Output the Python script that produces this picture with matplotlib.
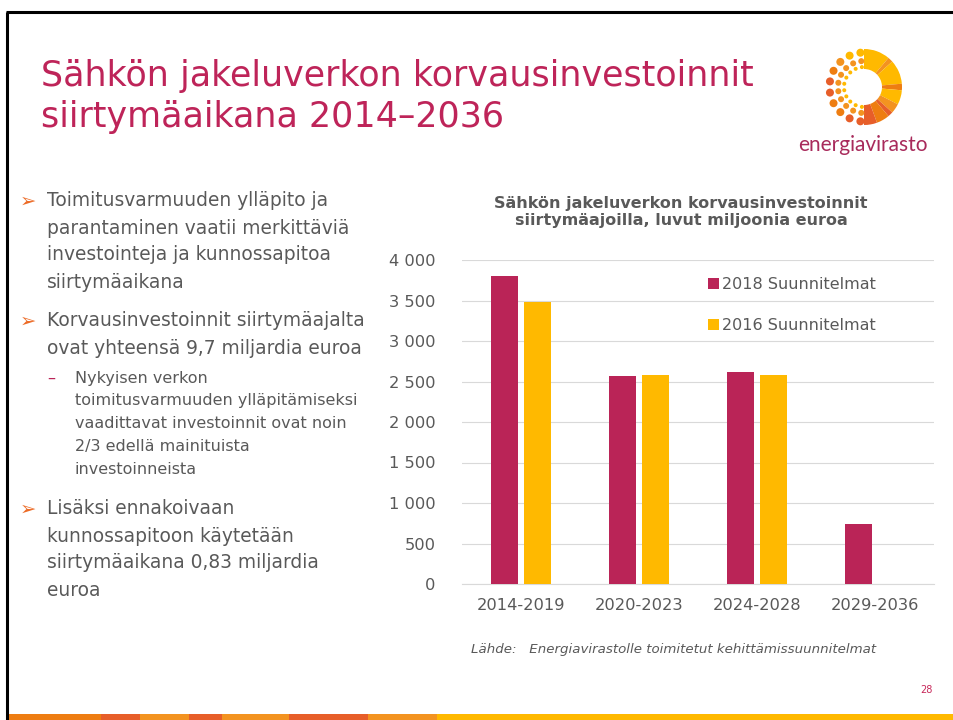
import numpy as np
import matplotlib

matplotlib.use("Agg")

import matplotlib.pyplot as plt
from matplotlib.patches import Circle, Rectangle, Wedge

categories = ["2014-2019", "2020-2023", "2024-2028", "2029-2036"]
plans_2018 = [3800, 2570, 2620, 735]
plans_2016 = [3480, 2575, 2585, np.nan]
y_ticks = [0, 500, 1000, 1500, 2000, 2500, 3000, 3500, 4000]
y_labels = ["0", "500", "1 000", "1 500", "2 000", "2 500", "3 000", "3 500", "4 000"]

title_lines = ["Sähkön jakeluverkon korvausinvestoinnit", "siirtymäaikana 2014–2036"]
main_text = [
    (201, "Toimitusvarmuuden ylläpito ja", True),
    (228, "parantaminen vaatii merkittäviä", False),
    (255, "investointeja ja kunnossapitoa", False),
    (282, "siirtymäaikana", False),
    (321, "Korvausinvestoinnit siirtymäajalta", True),
    (348, "ovat yhteensä 9,7 miljardia euroa", False),
    (509, "Lisäksi ennakoivaan", True),
    (536, "kunnossapitoon käytetään", False),
    (563, "siirtymäaikana 0,83 miljardia", False),
    (590, "euroa", False),
]
sub_text = [
    (378, "Nykyisen verkon"),
    (401, "toimitusvarmuuden ylläpitämiseksi"),
    (424, "vaadittavat investoinnit ovat noin"),
    (447, "2/3 edellä mainituista"),
    (470, "investoinneista"),
]
footer_colors = ["#EE7D11", "#E75E29", "#F39320", "#E75E29", "#F39320", "#E75E29", "#F39320", "#FFB900"]
footer_edges = [9, 101, 140, 189, 222, 289, 368, 437, 954]

RED = "#BA2457"
YELLOW = "#FFB900"
GREY = "#595959"
W, H = 954, 720

plt.rcParams["font.family"] = ["DejaVu Sans"]

fig = plt.figure(figsize=(W / 100, H / 100), dpi=100)

# slide background, in pixel coordinates
bg = fig.add_axes([0, 0, 1, 1])
bg.set_xlim(0, W)
bg.set_ylim(H, 0)
bg.axis("off")

bg.plot([7, 7], [H, 12], color="black", lw=2.2, solid_capstyle="butt")
bg.plot([6, W], [12, 12], color="black", lw=2.2, solid_capstyle="butt")

for i, c in enumerate(footer_colors):
    bg.add_patch(Rectangle((footer_edges[i], 714), footer_edges[i + 1] - footer_edges[i], 6, color=c, lw=0))

for i, line in enumerate(title_lines):
    bg.text(41, 76 + i * 41.5, line, fontsize=25.15, color="#BE2459", va="center", ha="left")

for y, line, bullet in main_text:
    bg.text(47, y, line, fontsize=13.45, color=GREY, va="center", ha="left")
    if bullet:
        bg.text(20, y, "➢", fontsize=14, color="#EC6A25", va="center", ha="left")
for y, line in sub_text:
    bg.text(75, y, line, fontsize=11.5, color=GREY, va="center", ha="left")
bg.text(47, 378, "–", fontsize=11.5, color=RED, va="center", ha="left")

bg.text(681, 212, "Sähkön jakeluverkon korvausinvestoinnit\nsiirtymäajoilla, luvut miljoonia euroa",
        fontsize=11.5, fontweight="bold", color=GREY, ha="center", va="center", linespacing=1.15)
bg.text(471, 650, "Lähde:   Energiavirastolle toimitetut kehittämissuunnitelmat",
        fontsize=9.65, style="italic", color=GREY, va="center", ha="left")
bg.text(926, 690, "28", fontsize=7, color="#C8285A", va="center", ha="center")

# logo
cx, cy = 864, 87
wedge_colors = ["#FFB900", "#F39320", "#FFB900", "#EE7D11", "#FFB900",
                "#F39320", "#E75E29", "#EE7D11", "#E75E29"]
wedge_sizes = [40, 8, 37, 10, 22, 15, 8, 20, 20]
ang = -90
for c, s in zip(wedge_colors, wedge_sizes):
    # y axis is inverted, so angles run clockwise from the top
    bg.add_patch(Wedge((cx, cy), 38, ang, ang + s, width=20, color=c, lw=0))
    ang += s
ring_colors = ["#FFB900", "#FFB900", "#F39320", "#EE7D11", "#E75E29", "#E75E29", "#EE7D11", "#EE7D11", "#E75E29", "#E75E29"]
for r, size in [(34.5, 4.0), (26, 3.0), (20, 2.0)]:
    for k, a in enumerate(np.linspace(6, 174, 10)):
        col = ring_colors[k] if r > 30 else ("#F39320" if r > 25 else "#FFB900")
        t = np.deg2rad(a)
        bg.add_patch(Circle((cx - r * np.sin(t), cy - r * np.cos(t)), size, color=col, lw=0))
bg.text(863, 145, "energiavirasto", fontsize=15, color="#A82A5B", family="Lato", ha="center", va="center")

# chart
ax = fig.add_axes([462 / W, 1 - 584 / H, 472 / W, 324 / H])
ax.patch.set_alpha(0)
x = np.arange(len(categories))
bw = 0.229
off = 0.14
ax.bar(x - off, plans_2018, bw, color=RED, label="2018 Suunnitelmat", zorder=3)
ax.bar(x + off, plans_2016, bw, color=YELLOW, label="2016 Suunnitelmat", zorder=3)
ax.set_xlim(-0.5, 3.5)
ax.set_ylim(0, 4000)
ax.set_xticks(x)
ax.set_xticklabels(categories)
ax.set_yticks(y_ticks)
ax.set_yticklabels(y_labels, ha="right")
ax.tick_params(axis="both", length=0, labelsize=11.7, labelcolor=GREY)
ax.tick_params(axis="y", pad=19)
ax.tick_params(axis="x", pad=10)
ax.grid(axis="y", color="#D9D9D9", lw=0.8, zorder=0)
for name, s in ax.spines.items():
    s.set_visible(name == "bottom")
ax.spines["bottom"].set_color("#D9D9D9")
ax.legend(loc="upper left", bbox_to_anchor=(0.5106, 0.963), frameon=False, fontsize=11.5,
          labelcolor=GREY, handlelength=0.7, handleheight=0.7, handletextpad=0.18,
          labelspacing=1.66, borderpad=0.3, borderaxespad=0)

fig.savefig("out.png", dpi=100)
plt.close(fig)
